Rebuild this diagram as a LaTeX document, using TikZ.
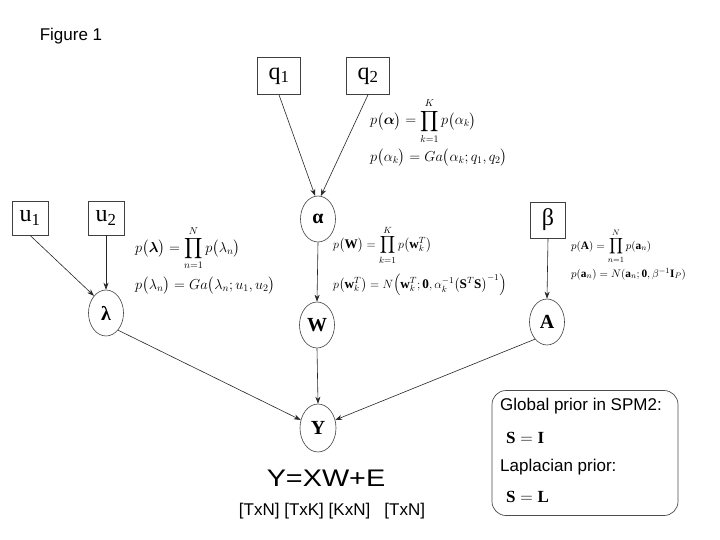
\documentclass[tikz,border=0pt]{standalone}
\usepackage{amsmath}
\usepackage{fontspec}
\setmainfont{Liberation Serif}
\setsansfont{Liberation Sans}
\usetikzlibrary{arrows.meta,shapes.geometric,calc}
\begin{document}
\begin{tikzpicture}[x=1pt,y=-1pt,
  param/.style={draw=black!75, line width=0.6pt, minimum width=43pt, minimum height=37pt, inner sep=0pt, font=\fontsize{24}{24}\selectfont},
  smallparam/.style={param, minimum width=36pt, minimum height=34pt},
  var/.style={ellipse, draw=black!75, line width=0.6pt, minimum width=35pt, minimum height=46pt, inner sep=0pt, font=\fontsize{20}{20}\selectfont\bfseries},
  eq/.style={anchor=west, inner sep=0pt, font=\fontsize{14}{16}\selectfont},
  eqs/.style={anchor=west, inner sep=0pt, font=\fontsize{11.3}{13}\selectfont},
  arr/.style={-{Stealth[length=7pt,width=5pt]}, line width=0.6pt, black!85},
  sans/.style={font=\sffamily\fontsize{17}{20}\selectfont, inner sep=0pt}]
\useasboundingbox[fill=white] (0,0) rectangle (720,540);

\node[sans] (fig) at (71,36) {Figure 1};

% parameter boxes
\node[param] (q1) at (279,76) {q\textsubscript{1}};
\node[param] (q2) at (368,76) {q\textsubscript{2}};
\node[smallparam] (u1) at (30,218) {u\textsubscript{1}};
\node[smallparam] (u2) at (106,218) {u\textsubscript{2}};
\node[param, minimum width=35pt, minimum height=36pt] (beta) at (548,220) {β};

% variables
\node[var] (alpha) at (318,219) {α};
\node[var] (W) at (317,325) {W};
\node[var, minimum width=36pt, minimum height=48pt] (Y) at (318,428) {Y};
\node[var] (lambda) at (106,313) {λ};
\node[var] (A) at (547,322) {A};

% connectors
\draw[arr] (q1.south) -- (alpha.97);
\draw[arr] (q2.south) -- (alpha.83);
\draw[arr] (u1.south) -- (lambda.125);
\draw[arr] (u2.south) -- (lambda.north);
\draw[arr] (alpha.south) -- (W.north);
\draw[arr] (beta.south) -- (A.north);
\draw[arr] (lambda.-55) -- (Y.155);
\draw[arr] (W.south) -- (Y.north);
\draw[arr] (A.-125) -- (Y.25);

% equations
\node[eq] (eqa1) at (370,121) {$p\bigl(\boldsymbol{\alpha}\bigr)=\displaystyle\prod_{k=1}^{K}p\bigl(\alpha_k\bigr)$};
\node[eq] (eqa2) at (370,158) {$p\bigl(\alpha_k\bigr)=Ga\bigl(\alpha_k;q_1,q_2\bigr)$};
\node[eq] (eql1) at (135,248) {$p\bigl(\boldsymbol{\lambda}\bigr)=\displaystyle\prod_{n=1}^{N}p\bigl(\lambda_n\bigr)$};
\node[eq] (eql2) at (135,286) {$p\bigl(\lambda_n\bigr)=Ga\bigl(\lambda_n;u_1,u_2\bigr)$};
\node[eq, font=\fontsize{13.2}{15}\selectfont] (eqw1) at (333,245) {$p\bigl(\mathbf{W}\bigr)=\displaystyle\prod_{k=1}^{K}p\bigl(\mathbf{w}_k^T\bigr)$};
\node[eq, font=\fontsize{13.2}{15}\selectfont] (eqw2) at (333,285) {$p\bigl(\mathbf{w}_k^T\bigr)=N\Bigl(\mathbf{w}_k^T;\mathbf{0},\alpha_k^{-1}\bigl(\mathbf{S}^T\mathbf{S}\bigr)^{-1}\Bigr)$};
\node[eqs] (eqA1) at (571,246) {$p(\mathbf{A})=\displaystyle\prod_{n=1}^{N}p(\mathbf{a}_n)$};
\node[eqs] (eqA2) at (571,274) {$p(\mathbf{a}_n)=N(\mathbf{a}_n;\mathbf{0},\beta^{-1}\mathbf{I}_P)$};

% model equation
\node[inner sep=0pt, font=\sffamily\fontsize{24}{26}\selectfont] (model) at (326,478) {\scalebox{1.2}[1]{Y=XW+E}};
\node[sans] (dims) at (332,511) {[TxN] [TxK] [KxN] \ \ [TxN]};

% prior box
\node[draw=black!70, rounded corners=14pt, line width=0.7pt, minimum width=186pt, minimum height=125pt] (prior) at (585,453) {};
\node[sans, anchor=west] (t1) at (500,406) {Global prior in SPM2:};
\node[anchor=west, inner sep=0pt, font=\fontsize{17}{20}\selectfont] (t2) at (506,438) {$\mathbf{S}=\mathbf{I}$};
\node[sans, anchor=west] (t3) at (500,467) {Laplacian prior:};
\node[anchor=west, inner sep=0pt, font=\fontsize{17}{20}\selectfont] (t4) at (506,497) {$\mathbf{S}=\mathbf{L}$};
\end{tikzpicture}
\end{document}
